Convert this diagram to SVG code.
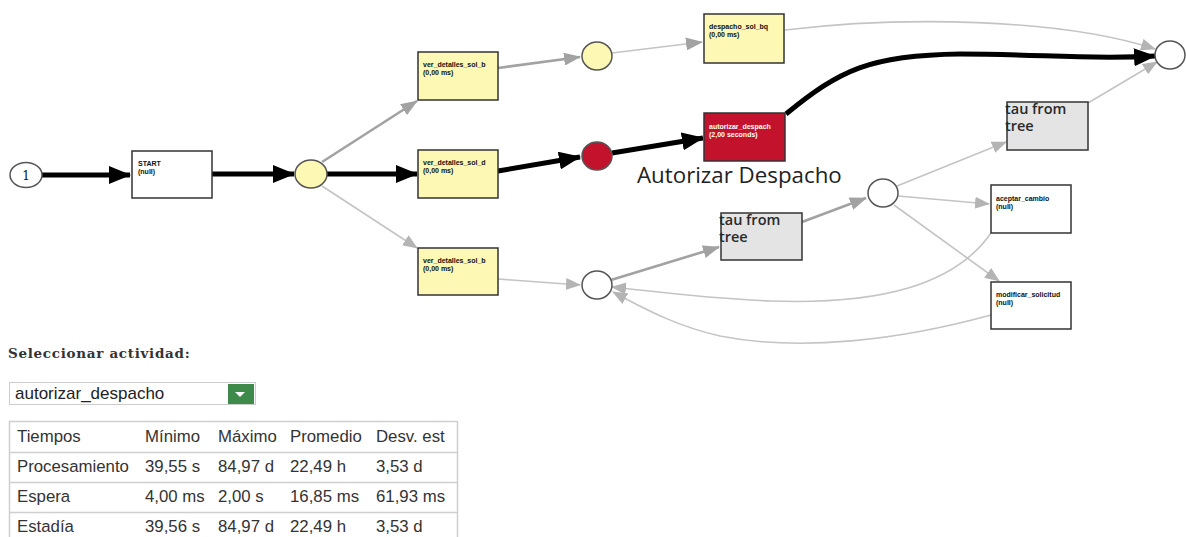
<svg xmlns="http://www.w3.org/2000/svg" width="1186" height="537" viewBox="0 0 1186 537">
<style>
.box{stroke:#333;stroke-width:1.5}
.yel{fill:#fdf8b4}
.wht{fill:#fff}
.red{fill:#c3122c}
.tau{fill:#e4e4e4}
.place{stroke:#555;stroke-width:1.5}
.tiny{font-family:"Liberation Sans",Arial,sans-serif;font-size:7px;font-weight:bold;fill:#111}
.tinyw{font-family:"Liberation Sans",Arial,sans-serif;font-size:7px;font-weight:bold;fill:#fff}
.taut{font-family:"Open Sans","Noto Sans",sans-serif;font-size:14.5px;font-weight:600;fill:#2a2a2a}
.thick{fill:none;stroke:#000;stroke-width:5}
.mid{fill:none;stroke:#a2a2a2;stroke-width:2.6}
.lite{fill:none;stroke:#c4c4c4;stroke-width:1.6}
.tbl{font-family:"Liberation Sans",Arial,sans-serif;font-size:16.8px;fill:#333}
</style>
<defs>
<marker id="ab" markerUnits="userSpaceOnUse" markerWidth="22" markerHeight="18" refX="21" refY="9" orient="auto"><path d="M0,0 L22,9 L0,18 Z" fill="#000"/></marker>
<marker id="ag" markerUnits="userSpaceOnUse" markerWidth="17" markerHeight="13" refX="16" refY="6.5" orient="auto"><path d="M0,0 L17,6.5 L0,13 Z" fill="#a2a2a2"/></marker>
<marker id="al" markerUnits="userSpaceOnUse" markerWidth="15" markerHeight="12" refX="14" refY="6" orient="auto"><path d="M0,0 L15,6 L0,12 Z" fill="#b4b4b4"/></marker>
</defs>

<g id="connectors">
<path class="thick" d="M42,175 L130,175" marker-end="url(#ab)"/>
<path class="thick" d="M212,174 L294,174" marker-end="url(#ab)"/>
<path class="thick" d="M327,174 L417,174" marker-end="url(#ab)"/>
<path class="mid" d="M322,162 L417,101" marker-end="url(#ag)"/>
<path class="lite" d="M322,186 L417,248" marker-end="url(#al)"/>
<path class="mid" d="M498,68 L580,57" marker-end="url(#ag)"/>
<path class="thick" d="M498,171 L580,157" marker-end="url(#ab)"/>
<path class="lite" d="M498,279 L580,285" marker-end="url(#al)"/>
<path class="lite" d="M612,53 L702,42" marker-end="url(#ag)"/>
<path class="thick" d="M612,153 L703,138" marker-end="url(#ab)"/>
<path class="lite" d="M785,30 C900,16 1060,18 1155,49" marker-end="url(#al)"/>
<path class="thick" d="M786,114 C840,70 870,55 960,54 C1040,54 1090,60 1155,56" marker-end="url(#ab)"/>
<path class="mid" d="M611,280 L719,247" marker-end="url(#ag)"/>
<path class="mid" d="M802,222 L866,198" marker-end="url(#ag)"/>
<path class="lite" d="M897,186 L1006,142" marker-end="url(#al)"/>
<path class="lite" d="M898,196 L989,204" marker-end="url(#al)"/>
<path class="lite" d="M894,205 L999,281" marker-end="url(#al)"/>
<path class="lite" d="M1088,103 L1157,62" marker-end="url(#al)"/>
<path class="lite" d="M991,233 C955,285 880,305 770,301 C700,298 660,292 612,287" marker-end="url(#al)"/>
<path class="lite" d="M991,315 C900,340 800,352 720,336 C680,327 650,312 613,292" marker-end="url(#al)"/>
</g>

<g id="n_start_place">
<ellipse cx="26" cy="175" rx="16" ry="12.5" class="place" fill="#fff"/>
<text x="26" y="179.5" text-anchor="middle" font-family="DejaVu Serif,serif" font-size="12" fill="#111">1</text>
</g>
<g id="n_START">
<rect x="132" y="151" width="80" height="47" class="box wht"/>
<text class="tiny" x="138" y="166">START</text>
<text class="tiny" x="138" y="174">(null)</text>
</g>
<g id="n_p1"><ellipse cx="311" cy="174" rx="16" ry="14" class="place" fill="#fdf8b4"/></g>
<g id="n_ver_top">
<rect x="418" y="52" width="80" height="48" class="box yel"/>
<text class="tiny" x="423" y="67">ver_detalles_sol_b</text>
<text class="tiny" x="423" y="75">(0,00 ms)</text>
</g>
<g id="n_ver_mid">
<rect x="418" y="150" width="80" height="48" class="box yel"/>
<text class="tiny" x="423" y="165">ver_detalles_sol_d</text>
<text class="tiny" x="423" y="173">(0,00 ms)</text>
</g>
<g id="n_ver_bot">
<rect x="418" y="248" width="80" height="47" class="box yel"/>
<text class="tiny" x="423" y="263">ver_detalles_sol_b</text>
<text class="tiny" x="423" y="271">(0,00 ms)</text>
</g>
<g id="n_p2"><ellipse cx="597" cy="56" rx="15" ry="14" class="place" fill="#fdf8b4"/></g>
<g id="n_p3"><ellipse cx="597" cy="156" rx="15" ry="14" class="place" fill="#c3122c"/></g>
<g id="n_p4"><ellipse cx="597" cy="285" rx="15" ry="14" class="place" fill="#fff"/></g>
<g id="n_despacho">
<rect x="704" y="14" width="80" height="49" class="box yel"/>
<text class="tiny" x="709" y="29">despacho_sol_bq</text>
<text class="tiny" x="709" y="37">(0,00 ms)</text>
</g>
<g id="n_autorizar">
<rect x="704" y="113" width="81" height="48" class="box red"/>
<text class="tinyw" x="709" y="129">autorizar_despach</text>
<text class="tinyw" x="709" y="137">(2,00 seconds)</text>
<text x="637" y="183" font-family="Open Sans,Noto Sans,sans-serif" font-size="22.3" fill="#222">Autorizar Despacho</text>
</g>
<g id="n_tau1">
<rect x="721" y="213" width="81" height="47" class="box tau"/>
<text class="taut" x="719" y="225">tau from</text>
<text class="taut" x="719" y="242">tree</text>
</g>
<g id="n_p5"><ellipse cx="883" cy="193" rx="15" ry="14" class="place" fill="#fff"/></g>
<g id="n_tau2">
<rect x="1007" y="102" width="81" height="48" class="box tau"/>
<text class="taut" x="1005" y="114">tau from</text>
<text class="taut" x="1005" y="131">tree</text>
</g>
<g id="n_aceptar">
<rect x="991" y="185" width="80" height="48" class="box wht"/>
<text class="tiny" x="996" y="201">aceptar_cambio</text>
<text class="tiny" x="996" y="209">(null)</text>
</g>
<g id="n_modificar">
<rect x="991" y="282" width="80" height="47" class="box wht"/>
<text class="tiny" x="996" y="297">modificar_solicitud</text>
<text class="tiny" x="996" y="305">(null)</text>
</g>
<g id="n_end"><ellipse cx="1170" cy="55" rx="15" ry="14" class="place" fill="#fff"/></g>

<g id="panel">
<text x="8" y="358" font-family="DejaVu Serif,serif" font-weight="bold" font-size="13.5" letter-spacing="0.7" fill="#333">Seleccionar actividad:</text>
<rect x="9.5" y="382.5" width="246" height="22" fill="#fff" stroke="#ccc"/>
<text x="15" y="399" font-family="Liberation Sans,Arial,sans-serif" font-size="17" fill="#222">autorizar_despacho</text>
<rect x="228" y="384" width="26" height="20" fill="#3d8a4b"/>
<path d="M235,392 L245,392 L240,397 Z" fill="#fff"/>
<rect x="9.5" y="421.5" width="448" height="130" fill="#fff" stroke="#cfcfcf" stroke-width="1.5"/>
<path d="M9.5,452.5 H457.5 M9.5,482.5 H457.5 M9.5,512.5 H457.5" stroke="#cfcfcf" stroke-width="1.5"/>
<g class="tbl">
<text x="17" y="442">Tiempos</text><text x="145" y="442">Mínimo</text><text x="218" y="442">Máximo</text><text x="290" y="442">Promedio</text><text x="376" y="442">Desv. est</text>
<text x="17" y="472">Procesamiento</text><text x="145" y="472">39,55 s</text><text x="218" y="472">84,97 d</text><text x="290" y="472">22,49 h</text><text x="376" y="472">3,53 d</text>
<text x="17" y="502">Espera</text><text x="145" y="502">4,00 ms</text><text x="218" y="502">2,00 s</text><text x="290" y="502">16,85 ms</text><text x="376" y="502">61,93 ms</text>
<text x="17" y="532">Estadía</text><text x="145" y="532">39,56 s</text><text x="218" y="532">84,97 d</text><text x="290" y="532">22,49 h</text><text x="376" y="532">3,53 d</text>
</g>
</g>
</svg>
